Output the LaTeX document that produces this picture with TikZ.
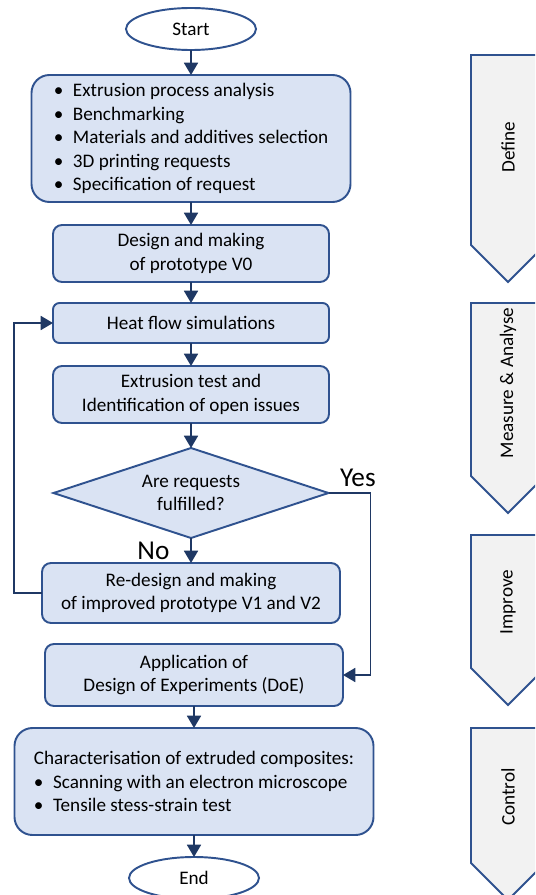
\documentclass[tikz,border=0pt]{standalone}
\usepackage{fontspec}
\setmainfont{Carlito}
\usepackage{tikz}
\usetikzlibrary{positioning}
\usetikzlibrary{shapes.geometric}
\usetikzlibrary{arrows.meta}
\definecolor{boxblue}{RGB}{218,227,243}
\definecolor{edgeblue}{RGB}{47,82,143}
\definecolor{arrowblue}{RGB}{31,56,100}
\definecolor{phasegray}{RGB}{242,242,242}
\newcommand{\blt}{\makebox[1.0em][l]{\textbullet}}
\tikzset{
terminal/.style={ellipse, draw=edgeblue, line width=1.1pt, outer sep=0pt, fill=white, minimum width=2.6cm, minimum height=0.84cm, font=\fontsize{10.9}{13.4}\selectfont},
process/.style={rectangle, rounded corners=0.18cm, draw=edgeblue, line width=1.1pt, outer sep=0pt, fill=boxblue, minimum width=5.52cm, minimum height=1.14cm, inner sep=2pt, align=center, font=\fontsize{10.9}{13.4}\selectfont},
list_box/.style={process, rounded corners=0.36cm, align=left},
decision_box/.style={diamond, aspect=3.06, draw=edgeblue, line width=1.1pt, outer sep=0pt, fill=boxblue, minimum width=5.5cm, minimum height=1.8cm, inner sep=0pt, align=center, font=\fontsize{10.9}{13.4}\selectfont},
flow/.style={draw=arrowblue, line width=0.9pt, -{Triangle[width=8pt,length=7pt]}},
answer/.style={font=\fontsize{15.5}{18}\selectfont},
phase/.style={draw=edgeblue, line width=1.1pt, fill=phasegray},
phase_label/.style={rotate=90, font=\fontsize{10.9}{13.4}\selectfont}
}

\begin{document}
\begin{tikzpicture}
    \clip (0,0) rectangle (10.7,-17.9);
    \node[terminal] (start) at (3.82,-0.58) {Start};
    \node[list_box, minimum width=6.38cm, minimum height=2.54cm] (analysis) [below=0.5cm of start] {\blt Extrusion process analysis\\ \blt Benchmarking\\ \blt Materials and additives selection\\ \blt 3D printing requests\\ \blt Specification of request};
    \node[process] (prototype_v0) [below=0.46cm of analysis] {Design and making\\of prototype V0};
    \node[process, minimum height=0.8cm, rounded corners=0.13cm] (heat_flow) [below=0.42cm of prototype_v0] {Heat flow simulations};
    \node[process] (extrusion_test) [below=0.46cm of heat_flow] {Extrusion test and\\Identification of open issues};
    \node[decision_box] (fulfilled) [below=0.5cm of extrusion_test] {Are requests\\fulfilled?};
    \node[process, minimum width=5.96cm, minimum height=1.2cm] (redesign) [below=0.5cm of fulfilled] {Re-design and making\\of improved prototype V1 and V2};
    \node[process, minimum width=5.96cm, minimum height=1.24cm] (doe) [below=0.42cm of redesign, xshift=0.06cm] {Application of\\Design of Experiments (DoE)};
    \node[list_box, minimum width=7.18cm, minimum height=2.14cm] (characterisation) [below=0.44cm of doe] {Characterisation of extruded composites:\\ \blt Scanning with an electron microscope\\ \blt Tensile stess-strain test};
    \node[terminal] (finish) [below=0.44cm of characterisation] {End};

    \draw[flow] (start) -- (analysis);
    \draw[flow] (analysis) -- (prototype_v0);
    \draw[flow] (prototype_v0) -- (heat_flow);
    \draw[flow] (heat_flow) -- (extrusion_test);
    \draw[flow] (extrusion_test) -- (fulfilled);
    \draw[flow] (fulfilled) -- (redesign) node[answer, midway, left=0.3cm] {No};
    \draw[flow] (fulfilled.east) -- ++(0.84,0) node[answer, pos=0.7, above] {Yes} |- (doe.east);
    \draw[flow] (redesign.west) -- ++(-0.56,0) |- (heat_flow.west);
    \draw[flow] (doe) -- (characterisation);
    \draw[flow] (characterisation) -- (finish);

    % DMAIC phases
    \draw[phase] (9.42,-1.10) -- (10.9,-1.10) -- (10.9,-4.90) -- (10.16,-5.64) -- (9.42,-4.90) -- cycle;
    \node[phase_label] (define) at (10.16,-2.94) {Define};
    \draw[phase] (9.42,-6.06) -- (10.9,-6.06) -- (10.9,-9.52) -- (10.16,-10.26) -- (9.42,-9.52) -- cycle;
    \node[phase_label] (measure) at (10.16,-7.66) {Measure \& Analyse};
    \draw[phase] (9.42,-10.70) -- (10.9,-10.70) -- (10.9,-13.36) -- (10.16,-14.10) -- (9.42,-13.36) -- cycle;
    \node[phase_label] (improve) at (10.16,-12.04) {Improve};
    \draw[phase] (9.42,-14.56) -- (10.9,-14.56) -- (10.9,-17.26) -- (10.16,-18.00) -- (9.42,-17.26) -- cycle;
    \node[phase_label] (control) at (10.16,-15.94) {Control};
\end{tikzpicture}
\end{document}
